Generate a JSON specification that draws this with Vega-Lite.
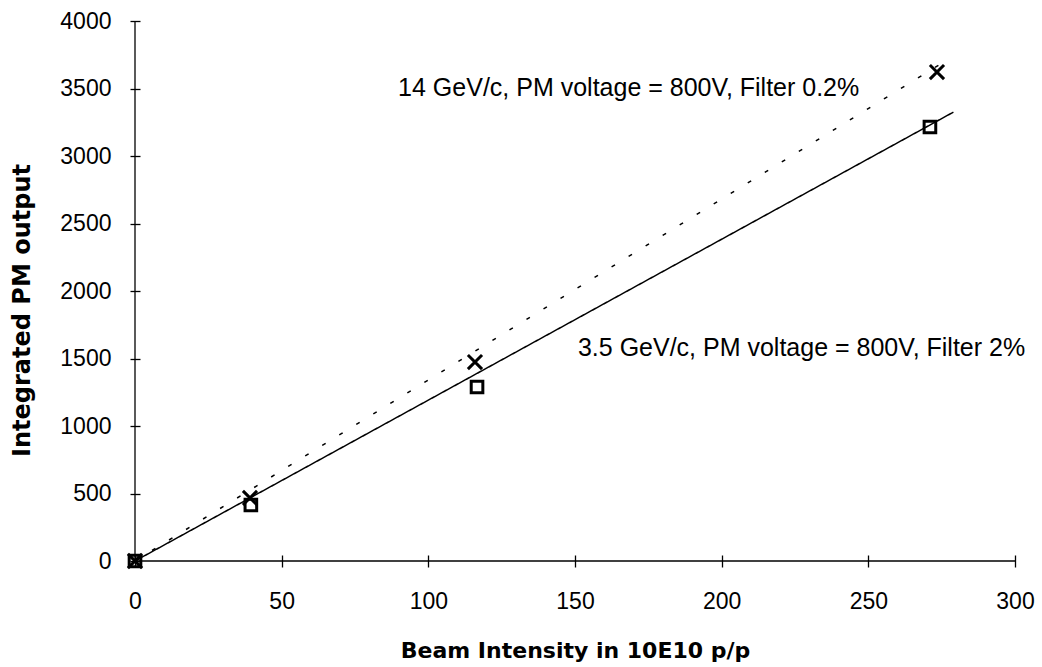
{
  "$schema": "https://vega.github.io/schema/vega-lite/v6.json",
  "width": 880,
  "height": 540,
  "autosize": {"type": "none"},
  "padding": {"left": 135, "top": 21, "right": 27, "bottom": 106},
  "background": "white",
  "config": {
    "view": {"stroke": null},
    "axis": {"grid": false, "domain": false, "tickColor": "black", "labelColor": "black", "titleColor": "black"}
  },
  "datasets": {
    "points": [
      {"x": 0, "y": 0, "series": "14 GeV/c"},
      {"x": 39.2, "y": 467, "series": "14 GeV/c"},
      {"x": 115.9, "y": 1474, "series": "14 GeV/c"},
      {"x": 273.4, "y": 3622, "series": "14 GeV/c"},
      {"x": 0, "y": 0, "series": "3.5 GeV/c"},
      {"x": 39.5, "y": 415, "series": "3.5 GeV/c"},
      {"x": 116.6, "y": 1289, "series": "3.5 GeV/c"},
      {"x": 271, "y": 3215, "series": "3.5 GeV/c"}
    ],
    "fits": [
      {"x": 0, "y": 0, "series": "14 GeV/c"},
      {"x": 276, "y": 3700, "series": "14 GeV/c"},
      {"x": 0, "y": 0, "series": "3.5 GeV/c"},
      {"x": 279, "y": 3325, "series": "3.5 GeV/c"}
    ],
    "labels": [
      {"x": 89.7, "y": 3504, "text": "14 GeV/c, PM voltage = 800V, Filter 0.2%"},
      {"x": 151, "y": 1578, "text": "3.5 GeV/c, PM voltage = 800V, Filter 2%"}
    ],
    "frame": [
      {"x": 0, "x2": 0, "y": 0, "y2": 4000},
      {"x": 0, "x2": 300, "y": 0, "y2": 0}
    ]
  },
  "layer": [
    {
      "data": {"name": "frame"},
      "mark": {"type": "rule", "color": "black", "strokeWidth": 1.3},
      "encoding": {
        "x": {"field": "x", "type": "quantitative", "scale": {"domain": [0, 300], "nice": false},
          "axis": {"values": [0, 50, 100, 150, 200, 250, 300], "format": "d", "offset": -6, "tickSize": 12, "tickWidth": 1.3,
            "labelFlush": false, "labelOverlap": false,
            "labelFont": "Liberation Sans", "labelFontSize": 23, "labelPadding": 23,
            "title": "Beam Intensity in 10E10 p/p", "titleFont": "DejaVu Sans", "titleFontWeight": "bold", "titleFontSize": 22, "titlePadding": 27}},
        "x2": {"field": "x2"},
        "y": {"field": "y", "type": "quantitative", "scale": {"domain": [0, 4000], "nice": false},
          "axis": {"values": [0, 500, 1000, 1500, 2000, 2500, 3000, 3500, 4000], "format": "d", "offset": -5, "tickSize": 10, "tickWidth": 1.3,
            "labelFlush": false, "labelOverlap": false,
            "labelFont": "Liberation Sans", "labelFontSize": 23, "labelPadding": 19,
            "title": "Integrated PM output", "titleFont": "DejaVu Sans", "titleFontWeight": "bold", "titleFontSize": 24, "titlePadding": 25, "titleY": 289}},
        "y2": {"field": "y2"}
      }
    },
    {
      "data": {"name": "fits"},
      "mark": {"type": "line", "color": "black", "strokeWidth": 1.5},
      "encoding": {
        "x": {"field": "x", "type": "quantitative"},
        "y": {"field": "y", "type": "quantitative"},
        "detail": {"field": "series"},
        "strokeDash": {"field": "series", "type": "nominal",
          "scale": {"domain": ["14 GeV/c", "3.5 GeV/c"], "range": [[4, 16], [1, 0]]}, "legend": null}
      }
    },
    {
      "data": {"name": "points"},
      "mark": {"type": "point", "color": "black", "filled": false, "strokeWidth": 3, "opacity": 1},
      "encoding": {
        "x": {"field": "x", "type": "quantitative"},
        "y": {"field": "y", "type": "quantitative"},
        "shape": {"field": "series", "type": "nominal",
          "scale": {"domain": ["14 GeV/c", "3.5 GeV/c"], "range": ["M-1,-1L1,1M-1,1L1,-1", "square"]}, "legend": null},
        "size": {"field": "series", "type": "nominal",
          "scale": {"domain": ["14 GeV/c", "3.5 GeV/c"], "range": [200, 135]}, "legend": null}
      }
    },
    {
      "data": {"name": "labels"},
      "mark": {"type": "text", "align": "left", "baseline": "middle", "font": "Liberation Sans", "fontSize": 25, "color": "black"},
      "encoding": {
        "x": {"field": "x", "type": "quantitative"},
        "y": {"field": "y", "type": "quantitative"},
        "text": {"field": "text"}
      }
    }
  ]
}
